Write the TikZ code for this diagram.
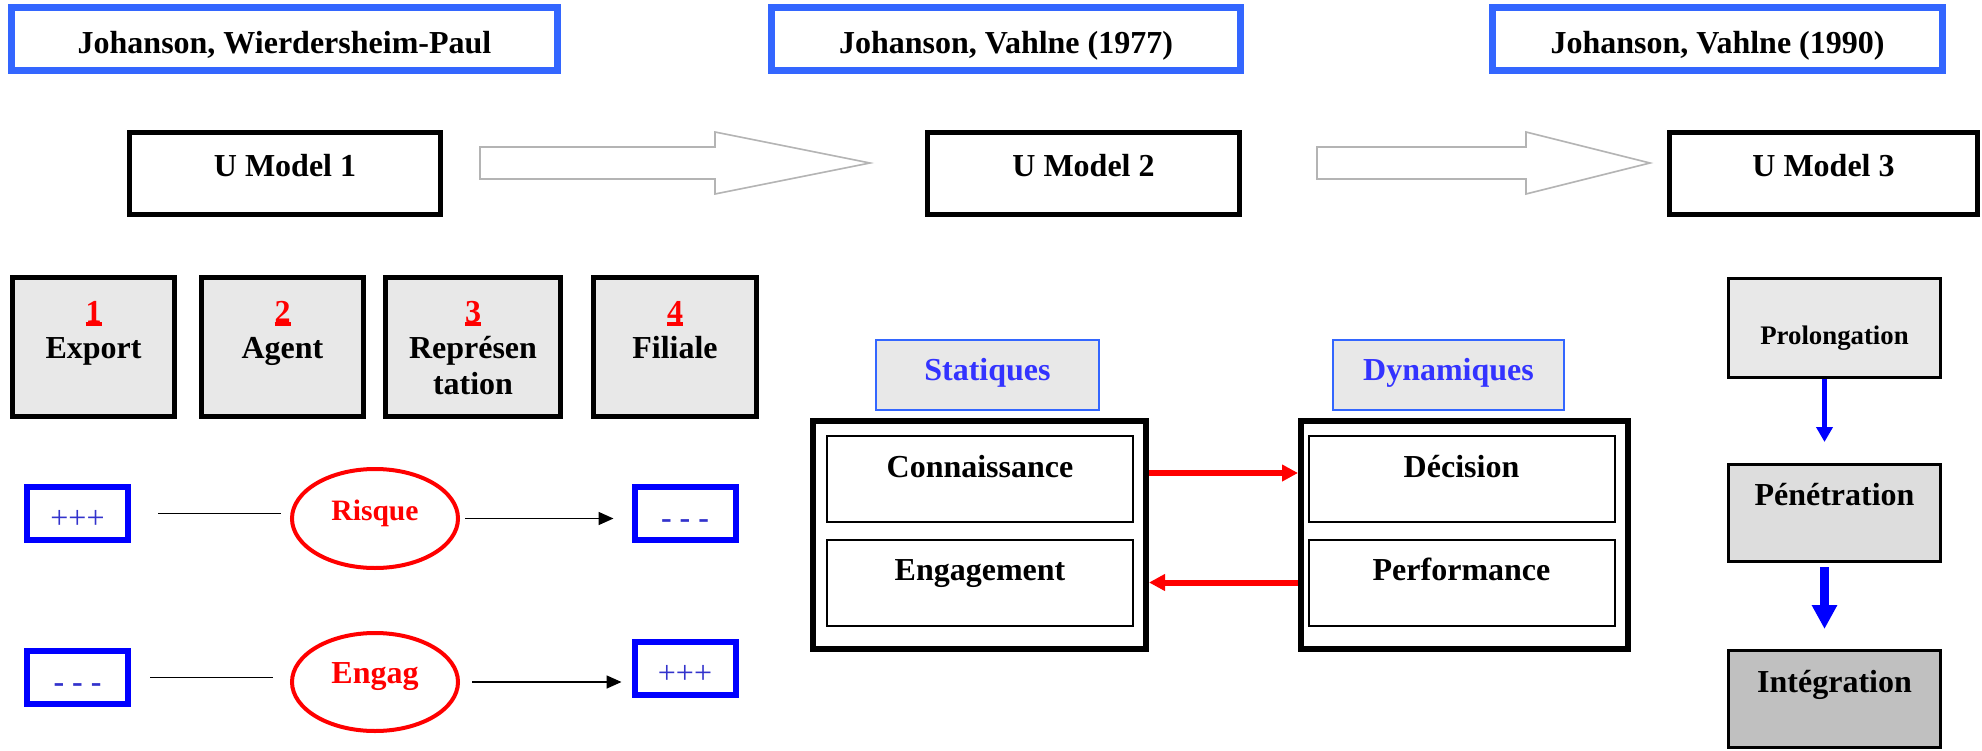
\documentclass[tikz,border=0pt]{standalone}
\usepackage{fontspec}
\setmainfont{Liberation Serif}
\usetikzlibrary{shapes.geometric,arrows.meta,calc}
\definecolor{bleutitre}{RGB}{51,102,255}
\definecolor{bleutexte}{RGB}{51,51,204}
\definecolor{bleucat}{RGB}{51,51,255}
\definecolor{grisclair}{RGB}{232,232,232}
\definecolor{grismoyen}{RGB}{221,221,221}
\definecolor{grisfonce}{RGB}{192,192,192}
\definecolor{griscontour}{RGB}{180,180,180}
\newcommand{\numero}[1]{\textcolor{red}{\setbox0\hbox{#1}\rlap{\rule[-1pt]{\wd0}{1pt}}\box0}}

\begin{document}
\begin{tikzpicture}[x=0.25pt,y=-0.25pt]
	\tikzstyle{boite}=[draw,rectangle,inner sep=0pt,font=\fontsize{8}{9}\selectfont\bfseries]
	\tikzstyle{titre}=[boite,draw=bleutitre,line width=1.75pt,minimum height=15.75pt,text height=7pt,text depth=0pt]
	\tikzstyle{modele}=[boite,line width=1.25pt,minimum height=20.5pt,text height=5.3pt,text depth=4pt]
	\tikzstyle{etape}=[boite,line width=1.25pt,fill=grisclair,minimum height=34.75pt]
	\tikzstyle{texteetape}=[anchor=north,yshift=-6.3pt,align=center,inner sep=0pt,font=\fontsize{8}{9}\selectfont\bfseries]
	\tikzstyle{signe}=[boite,draw=blue,line width=1.5pt,minimum width=25.25pt,minimum height=13.25pt,text=bleutexte,text height=7.25pt,text depth=0pt,font=\fontsize{8}{9}\selectfont]
	\tikzstyle{bulle}=[draw=red,ellipse,line width=1pt,inner sep=0pt,minimum width=41.5pt,minimum height=24.75pt,text=red,text height=5.3pt,text depth=4.5pt]
	\tikzstyle{categorie}=[boite,draw=bleutitre,line width=0.5pt,fill=grisclair,text=bleucat,minimum height=17.5pt,text height=5.25pt,text depth=2.75pt]
	\tikzstyle{cadre}=[draw,line width=1.5pt,minimum height=57pt]
	\tikzstyle{facteur}=[boite,line width=0.5pt,minimum width=76.5pt,minimum height=21.5pt,text height=5.25pt,text depth=6.25pt]
	\tikzstyle{stade}=[boite,line width=0.75pt,minimum width=53pt]
	\tikzstyle{creuse}=[draw=griscontour,line width=0.4pt,fill=white]
	\tikzstyle{trait}=[line width=0.4pt]
	\tikzstyle{fleche}=[-{Triangle[length=3.75pt,width=3.25pt]},line width=0.4pt]
	\tikzstyle{flecherouge}=[-{Triangle[length=4pt,width=4pt]},red,line width=1.5pt]
	\tikzstyle{flechebleue}=[-{Triangle[length=3.75pt,width=4pt]},blue,line width=1.4pt]
	\def\FlecheCreuse#1#2#3{%
		\draw[creuse] ($#1+(0,-16)$) -- ($#2+(-#3,-16)$) -- ($#2+(-#3,-31)$) -- #2
			-- ($#2+(-#3,31)$) -- ($#2+(-#3,16)$) -- ($#1+(0,16)$) -- cycle;}
	\useasboundingbox (0,0) rectangle (1982,750);
	% auteurs et modeles
	\node[titre,minimum width=136.5pt] (auteurs1) at (284.5,39) {Johanson, Wierdersheim-Paul};
	\node[titre,minimum width=117.25pt] (auteurs2) at (1006,39) {Johanson, Vahlne (1977)};
	\node[titre,minimum width=112.5pt] (auteurs3) at (1717.5,39) {Johanson, Vahlne (1990)};
	\node[modele,minimum width=77.75pt] (um1) at (285,173.5) {U Model 1};
	\node[modele,minimum width=78pt] (um2) at (1083.5,173.5) {U Model 2};
	\node[modele,minimum width=77pt] (um3) at (1823.5,173.5) {U Model 3};
	\coordinate (depart1) at ($(um1.east)+(37,-10.5)$);
	\coordinate (pointe1) at ($(um2.west)+(-55,-10.5)$);
	\coordinate (depart2) at ($(um2.east)+(75,-10.5)$);
	\coordinate (pointe2) at ($(um3.west)+(-17,-10.5)$);
	\FlecheCreuse{(depart1)}{(pointe1)}{155}
	\FlecheCreuse{(depart2)}{(pointe2)}{124}
	% modele 1
	\node[etape,minimum width=40.5pt,label={[texteetape]north:{\numero{1}\\Export}}] (export) at (93.5,347) {};
	\node[etape,minimum width=40.5pt,label={[texteetape]north:{\numero{2}\\Agent}}] (agent) at (282.5,347) {};
	\node[etape,minimum width=43.75pt,label={[texteetape]north:{\numero{3}\\Représen\\tation}}] (representation) at (473,347) {};
	\node[etape,minimum width=40.75pt,label={[texteetape]north:{\numero{4}\\Filiale}}] (filiale) at (675,347) {};
	\node[signe] (plus1) at (77.5,513.5) {+++};
	\node[bulle,font=\fontsize{7.4}{9}\selectfont\bfseries] (risque) at (375,518.5) {Risque};
	\node[signe,font=\fontsize{8}{9}\selectfont\bfseries] (moins1) at (685,513.5) {- - -};
	\node[signe,font=\fontsize{8}{9}\selectfont\bfseries] (moins2) at (77.5,677.5) {- - -};
	\node[bulle,minimum height=24.5pt,font=\fontsize{8}{9}\selectfont\bfseries] (engag) at (375,682) {Engag};
	\node[signe] (plus2) at (685,668.5) {+++};
	\draw[trait,shorten <=6.75pt,shorten >=2.25pt] (plus1.east) -- (plus1.east -| risque.west);
	\draw[fleche,shorten <=1.25pt,shorten >=4.5pt] (risque.east) -- (risque.east -| moins1.west);
	\draw[trait,shorten <=4.75pt,shorten >=4.25pt] (moins2.east) -- (moins2.east -| engag.west);
	\draw[fleche,shorten <=3pt,shorten >=2.5pt] (engag.east) -- (engag.east -| plus2.west);
	% modele 2
	\node[categorie,minimum width=55.75pt] (statiques) at (987.5,375) {Statiques};
	\node[categorie,minimum width=57.75pt] (dynamiques) at (1448.5,375) {Dynamiques};
	\node[cadre,minimum width=83.25pt] (etat) at (979.5,535) {};
	\node[cadre,minimum width=81.75pt] (changement) at (1464.5,535) {};
	\node[facteur] (connaissance) at (980,479) {Connaissance};
	\node[facteur] (engagement) at (980,582.5) {Engagement};
	\node[facteur] (decision) at (1461.5,479) {Décision};
	\node[facteur] (performance) at (1461.5,582.5) {Performance};
	\draw[flecherouge] ([yshift=1.5pt]connaissance -| etat.east) -- ([yshift=1.5pt]connaissance -| changement.west);
	\draw[flecherouge] (performance -| changement.west) -- (performance -| etat.east);
	% modele 3
	\node[stade,fill=grisclair,minimum height=24.75pt,text height=8pt,text depth=0pt,font=\fontsize{6.7}{8}\selectfont\bfseries] (prolongation) at (1834.5,328) {Prolongation};
	\node[stade,fill=grismoyen,minimum height=24.25pt,text height=5.25pt,text depth=9.25pt] (penetration) at (1834.5,513) {Pénétration};
	\node[stade,fill=grisfonce,minimum height=24.25pt,text height=5.25pt,text depth=8.75pt] (integration) at (1834.5,699) {Intégration};
	\draw[flechebleue,shorten >=5.25pt] ([xshift=-2.5pt]prolongation.south) -- ([xshift=-2.5pt]penetration.north);
	\draw[flechebleue,-{Triangle[length=6pt,width=6pt]},line width=2.1pt,shorten <=1pt,shorten >=5pt] ([xshift=-2.5pt]penetration.south) -- ([xshift=-2.5pt]integration.north);
\end{tikzpicture}
\end{document}
